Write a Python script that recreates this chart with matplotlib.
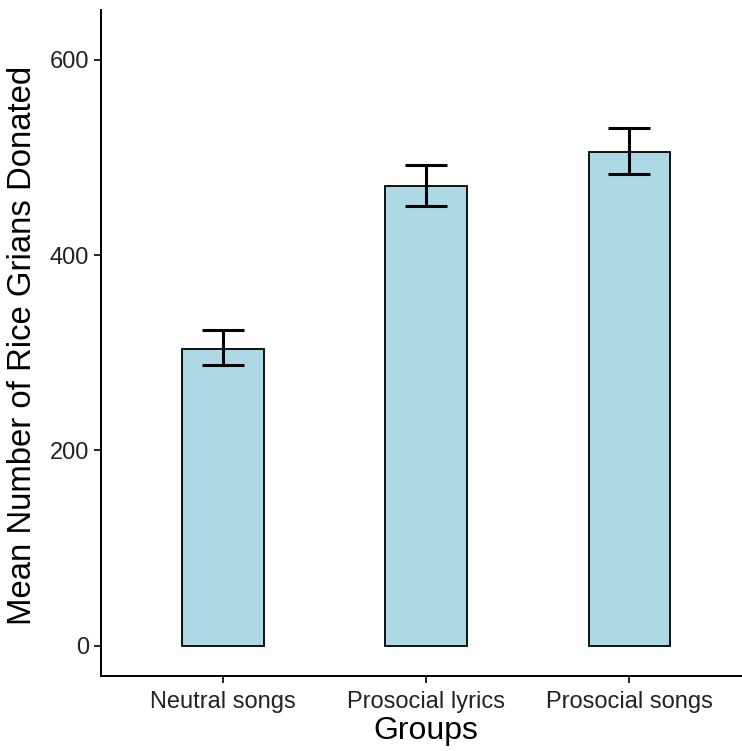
import numpy as np
import matplotlib; matplotlib.use('Agg')
import matplotlib.pyplot as plt

plt.rcParams['font.family'] = ['Liberation Sans', 'DejaVu Sans']

groups = ['Neutral songs', 'Prosocial lyrics', 'Prosocial songs']
means = [304, 471, 506]
err_lo = [287, 450, 483]
err_hi = [323, 492, 530]

fig = plt.figure(figsize=(7.42, 7.51), dpi=100)
ax = fig.add_axes([101/742, 75/751, 650/742, 666/751])
x = np.arange(1, len(groups)+1)
ax.bar(x, means, width=0.4, color='#ADD8E6', edgecolor='black', linewidth=1.3)
m = np.array(means); lo = m-np.array(err_lo); hi = np.array(err_hi)-m
ax.errorbar(x, means, yerr=[lo, hi], fmt='none', ecolor='black', elinewidth=2.2, capsize=15, capthick=2.2)
ax.set_xlim(0.4, 3.6)
ax.set_ylim(-31, 651)
ax.set_xticks(x, groups)
ax.set_yticks([0, 200, 400, 600])
ax.spines[['top', 'right']].set_visible(False)
ax.spines[['left', 'bottom']].set_linewidth(1.4)
ax.tick_params(labelsize=17, width=1.2, length=5, colors='black', labelcolor='#222222')
ax.tick_params(axis='x', pad=6)
ax.set_xlabel('Groups', fontsize=23, labelpad=2)
ax.set_ylabel('Mean Number of Rice Grians Donated', fontsize=23.7)
ax.yaxis.set_label_coords(-0.097, 0.497)
fig.savefig('out.png', dpi=100)
